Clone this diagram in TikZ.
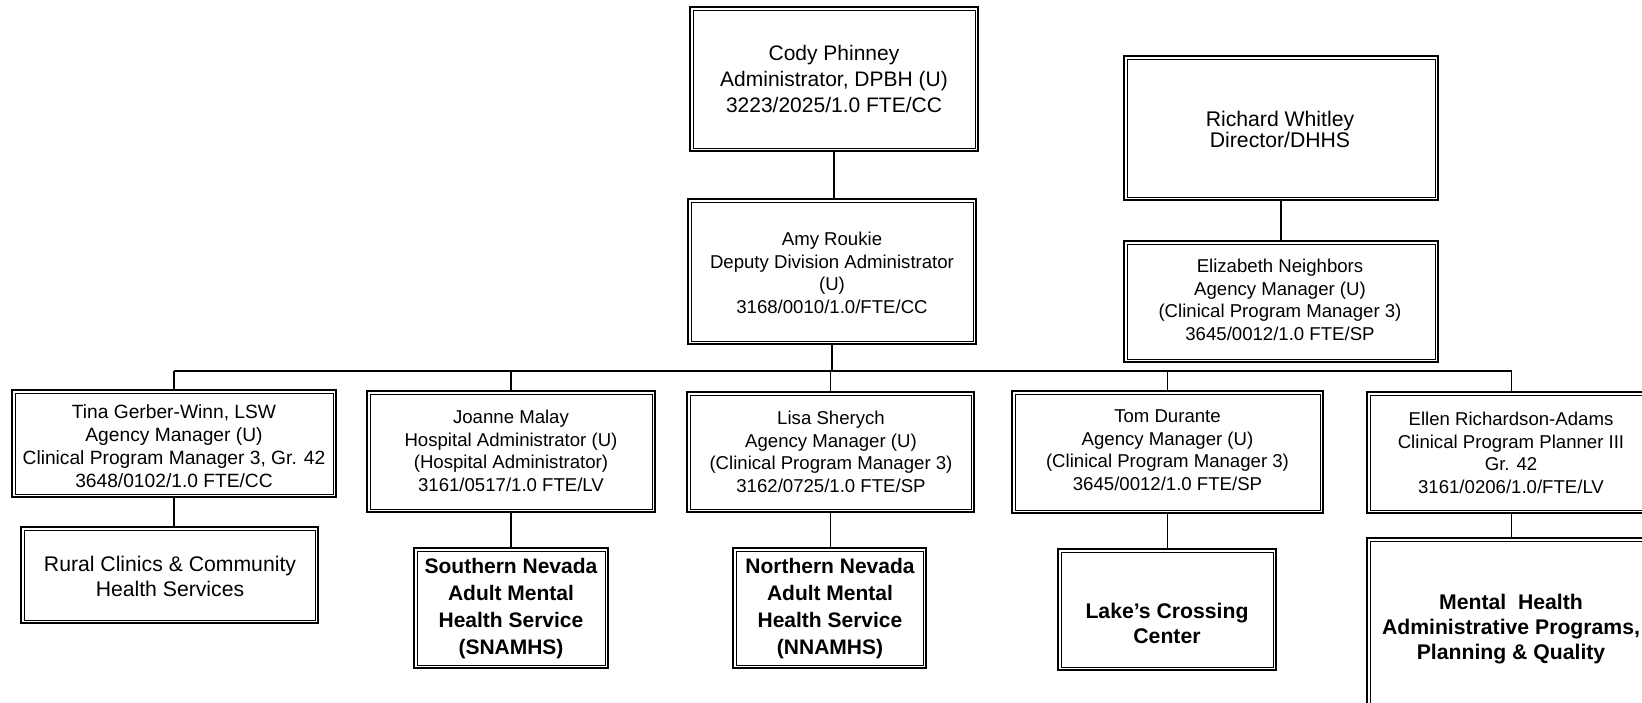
\documentclass[tikz,border=0pt]{standalone}
\usepackage{fontspec}
\setmainfont{Liberation Sans}
\begin{document}
\begin{tikzpicture}[x=1pt,y=-1pt,
  box/.style={draw, line width=2pt, rectangle, inner sep=0pt},
  inbox/.style={draw, line width=0.9pt},
  link/.style={line width=1.8pt},
  txt/.style={align=center, inner sep=0pt},
  fbig/.style={font=\fontsize{21}{26}\selectfont},
  frich/.style={font=\fontsize{21.2}{21}\selectfont},
  fmid/.style={font=\fontsize{18.6}{22.5}\selectfont},
  ftina/.style={font=\fontsize{19.2}{23}\selectfont},
  frural/.style={font=\fontsize{21.2}{25}\selectfont},
  fbold/.style={font=\fontsize{21}{27}\selectfont\bfseries},
  fboldb/.style={font=\fontsize{21.2}{25}\selectfont\bfseries}
]
\fill[white] (0,0) rectangle (1642,703);
\clip (0,0) rectangle (1642,703);

% boxes
\node[box, minimum width=288pt, minimum height=144pt] (cody) at (834,79) {};
\node[box, minimum width=314pt, minimum height=144pt] (richard) at (1281,128) {};
\node[box, minimum width=288pt, minimum height=145pt] (amy) at (832,271.5) {};
\node[box, minimum width=314pt, minimum height=121pt] (eliz) at (1281,301.5) {};
\node[box, minimum width=324pt, minimum height=107pt] (tina) at (174,443.5) {};
\node[box, minimum width=288pt, minimum height=121pt] (joanne) at (511,451.5) {};
\node[box, minimum width=287pt, minimum height=120pt] (lisa) at (830.5,452) {};
\node[box, minimum width=311pt, minimum height=122pt] (tom) at (1167.5,452) {};
\node[box, minimum width=289pt, minimum height=121pt] (ellen) at (1511.5,452.5) {};
\node[box, minimum width=297pt, minimum height=96pt] (rural) at (169.5,575) {};
\node[box, minimum width=194pt, minimum height=120pt] (southern) at (511,608) {};
\node[box, minimum width=193pt, minimum height=120pt] (northern) at (829.5,608) {};
\node[box, minimum width=218pt, minimum height=121pt] (lakes) at (1167,609.5) {};
\node[box, minimum width=289pt, minimum height=187pt] (mental) at (1511.5,631.5) {};

\foreach \n in {cody,richard,amy,eliz,tina,joanne,lisa,tom,ellen,rural,southern,northern,lakes,mental}
  \draw[inbox] ([shift={(4,4)}]\n.north west) rectangle ([shift={(-4,-4)}]\n.south east);

% texts
\node[txt, fbig] (codyt) at (834,79) {Cody Phinney\\Administrator, DPBH (U)\\3223/2025/1.0 FTE/CC};
\node[txt, frich] (richardt) at (1280,129) {Richard Whitley\\Director/DHHS};
\node[txt, fmid] (amyt) at (832,273) {Amy Roukie\\Deputy Division Administrator\\(U)\\3168/0010/1.0/FTE/CC};
\node[txt, fmid] (elizt) at (1280,300) {Elizabeth Neighbors\\Agency Manager (U)\\(Clinical Program Manager 3)\\3645/0012/1.0 FTE/SP};
\node[txt, ftina] (tinat) at (174,446) {Tina Gerber-Winn, LSW\\Agency Manager (U)\\Clinical Program Manager 3, Gr. 42\\3648/0102/1.0 FTE/CC};
\node[txt, fmid] (joannet) at (511,451) {Joanne Malay\\Hospital Administrator (U)\\(Hospital Administrator)\\3161/0517/1.0 FTE/LV};
\node[txt, fmid] (lisat) at (831,452) {Lisa Sherych\\Agency Manager (U)\\(Clinical Program Manager 3)\\3162/0725/1.0 FTE/SP};
\node[txt, fmid] (tomt) at (1167.5,450) {Tom Durante\\Agency Manager (U)\\(Clinical Program Manager 3)\\3645/0012/1.0 FTE/SP};
\node[txt, fmid] (ellent) at (1511,453) {Ellen Richardson-Adams\\Clinical Program Planner III\\Gr. 42\\3161/0206/1.0/FTE/LV};
\node[txt, frural] (ruralt) at (170,576) {Rural Clinics \& Community\\Health Services};
\node[txt, fbold] (southernt) at (511,609) {Southern Nevada\\Adult Mental\\Health Service\\(SNAMHS)};
\node[txt, fbold] (northernt) at (830,609) {Northern Nevada\\Adult Mental\\Health Service\\(NNAMHS)};
\node[txt, fboldb] (lakest) at (1167,623) {Lake’s Crossing\\Center};
\node[txt, fboldb] (mentalt) at (1511,629) {Mental\ \ Health\\Administrative Programs,\\Planning \& Quality};

% connectors
\coordinate (bus) at (832,371);
\draw[link] (cody.south) -- (cody.south |- amy.north);
\draw[link] (richard.south) -- (eliz.north);
\draw[link] (amy.south) -- (amy.south |- bus);
\draw[link] (tina.north |- bus) -- (ellen.north |- bus);
\foreach \n in {tina,joanne,lisa,tom,ellen}
  \draw[link] (\n.north |- bus) -- (\n.north);
\draw[link] (tina.south) -- (tina.south |- rural.north);
\draw[link] (joanne.south) -- (joanne.south |- southern.north);
\draw[link] (lisa.south) -- (lisa.south |- northern.north);
\draw[link] (tom.south) -- (tom.south |- lakes.north);
\draw[link] (ellen.south) -- (ellen.south |- mental.north);
\end{tikzpicture}
\end{document}
